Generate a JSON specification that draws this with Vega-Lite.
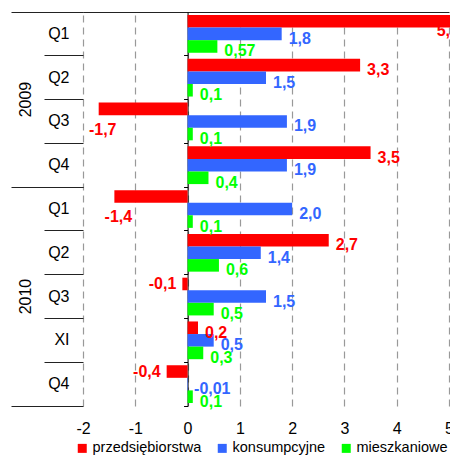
{
  "$schema": "https://vega.github.io/schema/vega-lite/v6.json",
  "width": 366,
  "height": 394,
  "padding": {"left": 10, "top": 11, "right": 0, "bottom": 0},
  "config": {"view": {"stroke": null}, "font": "Liberation Sans"},
  "data": {"values": [
    {"cat": "2009 Q1", "series": "przedsiębiorstwa", "value": 5.3},
    {"cat": "2009 Q1", "series": "konsumpcyjne", "value": 1.8},
    {"cat": "2009 Q1", "series": "mieszkaniowe", "value": 0.57},
    {"cat": "2009 Q2", "series": "przedsiębiorstwa", "value": 3.3},
    {"cat": "2009 Q2", "series": "konsumpcyjne", "value": 1.5},
    {"cat": "2009 Q2", "series": "mieszkaniowe", "value": 0.1},
    {"cat": "2009 Q3", "series": "przedsiębiorstwa", "value": -1.7},
    {"cat": "2009 Q3", "series": "konsumpcyjne", "value": 1.9},
    {"cat": "2009 Q3", "series": "mieszkaniowe", "value": 0.1},
    {"cat": "2009 Q4", "series": "przedsiębiorstwa", "value": 3.5},
    {"cat": "2009 Q4", "series": "konsumpcyjne", "value": 1.9},
    {"cat": "2009 Q4", "series": "mieszkaniowe", "value": 0.4},
    {"cat": "2010 Q1", "series": "przedsiębiorstwa", "value": -1.4},
    {"cat": "2010 Q1", "series": "konsumpcyjne", "value": 2.0},
    {"cat": "2010 Q1", "series": "mieszkaniowe", "value": 0.1},
    {"cat": "2010 Q2", "series": "przedsiębiorstwa", "value": 2.7},
    {"cat": "2010 Q2", "series": "konsumpcyjne", "value": 1.4},
    {"cat": "2010 Q2", "series": "mieszkaniowe", "value": 0.6},
    {"cat": "2010 Q3", "series": "przedsiębiorstwa", "value": -0.1},
    {"cat": "2010 Q3", "series": "konsumpcyjne", "value": 1.5},
    {"cat": "2010 Q3", "series": "mieszkaniowe", "value": 0.5},
    {"cat": "2010 XI", "series": "przedsiębiorstwa", "value": 0.2},
    {"cat": "2010 XI", "series": "konsumpcyjne", "value": 0.5},
    {"cat": "2010 XI", "series": "mieszkaniowe", "value": 0.3},
    {"cat": "2010 Q4", "series": "przedsiębiorstwa", "value": -0.4},
    {"cat": "2010 Q4", "series": "konsumpcyjne", "value": -0.01},
    {"cat": "2010 Q4", "series": "mieszkaniowe", "value": 0.1}
  ]},
  "layer": [
    {
      "mark": {"type": "bar"},
      "encoding": {
        "x": {"field": "value", "type": "quantitative", "scale": {"domain": [-2, 5], "nice": false, "zero": false},
          "axis": {"orient": "bottom", "values": [-2, -1, 0, 1, 2, 3, 4, 5], "labelExpr": "toString(datum.value)", "grid": true, "gridDash": [7, 5], "gridColor": "#999", "gridWidth": 1.2, "ticks": false, "domain": false, "labelFontSize": 16, "labelColor": "#000", "labelPadding": 14, "labelBaseline": "top", "labelFlush": false, "title": null}},
        "y": {"field": "cat", "type": "nominal", "scale": {"domain": ["2009 Q1", "2009 Q2", "2009 Q3", "2009 Q4", "2010 Q1", "2010 Q2", "2010 Q3", "2010 XI", "2010 Q4"], "paddingInner": 0, "paddingOuter": 0},
          "axis": {"orient": "left", "labelExpr": "slice(datum.label, 5)", "bandPosition": 0, "tickSize": 39, "tickColor": "#222", "domain": false, "grid": false, "labelAlign": "right", "labelBaseline": "middle", "labelPadding": -25, "labelFontSize": 16, "labelColor": "#000", "title": null}},
        "yOffset": {"field": "series", "type": "nominal", "scale": {"domain": ["przedsiębiorstwa", "konsumpcyjne", "mieszkaniowe"], "paddingInner": 0, "paddingOuter": 0.24}},
        "color": {"field": "series", "type": "nominal", "scale": {"domain": ["przedsiębiorstwa", "konsumpcyjne", "mieszkaniowe"], "range": ["#FF0000", "#3366FF", "#00FF00"]},
          "legend": {"orient": "none", "legendX": -8, "legendY": 429, "direction": "horizontal", "title": null, "symbolType": "square", "symbolSize": 81, "symbolStrokeWidth": 0, "labelFontSize": 14.5, "labelColor": "#000", "labelOffset": 3, "columnPadding": 13, "padding": 0}}
      }
    },
    {
      "mark": {"type": "point", "opacity": 0},
      "encoding": {
        "y": {"field": "cat", "type": "nominal", "scale": {"domain": ["2009 Q1", "2009 Q2", "2009 Q3", "2009 Q4", "2010 Q1", "2010 Q2", "2010 Q3", "2010 XI", "2010 Q4"], "paddingInner": 0, "paddingOuter": 0},
          "axis": {"orient": "left", "offset": -104.57, "domain": true, "domainColor": "#000", "domainWidth": 1, "ticks": true, "tickSize": 4, "bandPosition": 1, "tickColor": "#000", "labels": false, "grid": false, "title": null}}
      }
    },
    {
      "mark": {"type": "point", "opacity": 0},
      "encoding": {
        "y": {"field": "cat", "type": "nominal", "scale": {"domain": ["2009 Q1", "2009 Q2", "2009 Q3", "2009 Q4", "2010 Q1", "2010 Q2", "2010 Q3", "2010 XI", "2010 Q4"], "paddingInner": 0, "paddingOuter": 0},
          "axis": {"orient": "left", "values": ["2009 Q1"], "bandPosition": 0, "tickSize": 72, "tickColor": "#222", "domain": false, "grid": false, "labelExpr": "'2009'", "labelAngle": -90, "labelAlign": "center", "labelBaseline": "middle", "labelOffset": 65.67, "labelPadding": -14, "labelFontSize": 16, "labelColor": "#000", "title": null}}
      }
    },
    {
      "mark": {"type": "point", "opacity": 0},
      "encoding": {
        "y": {"field": "cat", "type": "nominal", "scale": {"domain": ["2009 Q1", "2009 Q2", "2009 Q3", "2009 Q4", "2010 Q1", "2010 Q2", "2010 Q3", "2010 XI", "2010 Q4"], "paddingInner": 0, "paddingOuter": 0},
          "axis": {"orient": "left", "values": ["2010 Q3"], "ticks": false, "domain": false, "grid": false, "labelExpr": "'2010'", "labelAngle": -90, "labelAlign": "center", "labelBaseline": "middle", "labelPadding": 58, "labelFontSize": 16, "labelColor": "#000", "title": null}}
      }
    },
    {
      "mark": {"type": "point", "opacity": 0},
      "encoding": {
        "y": {"field": "cat", "type": "nominal", "scale": {"domain": ["2009 Q1", "2009 Q2", "2009 Q3", "2009 Q4", "2010 Q1", "2010 Q2", "2010 Q3", "2010 XI", "2010 Q4"], "paddingInner": 0, "paddingOuter": 0},
          "axis": {"orient": "left", "values": ["2009 Q4", "2010 Q4"], "bandPosition": 1, "tickSize": 72, "tickColor": "#222", "domain": false, "grid": false, "labels": false, "title": null}}
      }
    },
    {
      "mark": {"type": "point", "opacity": 0},
      "encoding": {
        "x": {"field": "value", "type": "quantitative", "scale": {"domain": [-2, 5], "nice": false, "zero": false},
          "axis": {"orient": "top", "domain": true, "domainColor": "#222", "ticks": false, "labels": false, "grid": false, "title": null}}
      }
    },
    {
      "transform": [
        {"filter": "datum.value > -0.05 && datum.value <= 5"},
        {"calculate": "(datum.value < 0 ? '-' : '') + replace(format(abs(datum.value), round(datum.value*100) % 10 != 0 ? '.2f' : '.1f'), '.', ',')", "as": "lbl"}
      ],
      "mark": {"type": "text", "align": "left", "baseline": "middle", "dx": 7, "dy": 5, "fontSize": 16, "fontWeight": "bold"},
      "encoding": {
        "x": {"field": "value", "type": "quantitative", "scale": {"domain": [-2, 5], "nice": false, "zero": false}, "axis": null},
        "y": {"field": "cat", "type": "nominal", "scale": {"domain": ["2009 Q1", "2009 Q2", "2009 Q3", "2009 Q4", "2010 Q1", "2010 Q2", "2010 Q3", "2010 XI", "2010 Q4"], "paddingInner": 0, "paddingOuter": 0}, "axis": null},
        "yOffset": {"field": "series", "type": "nominal", "scale": {"domain": ["przedsiębiorstwa", "konsumpcyjne", "mieszkaniowe"], "paddingInner": 0, "paddingOuter": 0.24}},
        "color": {"field": "series", "type": "nominal", "scale": {"domain": ["przedsiębiorstwa", "konsumpcyjne", "mieszkaniowe"], "range": ["#FF0000", "#3366FF", "#00FF00"]}, "legend": null},
        "text": {"field": "lbl"}
      }
    },
    {
      "transform": [
        {"filter": "datum.value <= -0.05 && datum.value > -1"},
        {"calculate": "(datum.value < 0 ? '-' : '') + replace(format(abs(datum.value), round(datum.value*100) % 10 != 0 ? '.2f' : '.1f'), '.', ',')", "as": "lbl"}
      ],
      "mark": {"type": "text", "align": "right", "baseline": "middle", "dx": -6, "dy": 0, "fontSize": 16, "fontWeight": "bold"},
      "encoding": {
        "x": {"field": "value", "type": "quantitative", "scale": {"domain": [-2, 5], "nice": false, "zero": false}, "axis": null},
        "y": {"field": "cat", "type": "nominal", "scale": {"domain": ["2009 Q1", "2009 Q2", "2009 Q3", "2009 Q4", "2010 Q1", "2010 Q2", "2010 Q3", "2010 XI", "2010 Q4"], "paddingInner": 0, "paddingOuter": 0}, "axis": null},
        "yOffset": {"field": "series", "type": "nominal", "scale": {"domain": ["przedsiębiorstwa", "konsumpcyjne", "mieszkaniowe"], "paddingInner": 0, "paddingOuter": 0.24}},
        "color": {"field": "series", "type": "nominal", "scale": {"domain": ["przedsiębiorstwa", "konsumpcyjne", "mieszkaniowe"], "range": ["#FF0000", "#3366FF", "#00FF00"]}, "legend": null},
        "text": {"field": "lbl"}
      }
    },
    {
      "transform": [
        {"filter": "datum.value <= -1"},
        {"calculate": "(datum.value < 0 ? '-' : '') + replace(format(abs(datum.value), round(datum.value*100) % 10 != 0 ? '.2f' : '.1f'), '.', ',')", "as": "lbl"}
      ],
      "mark": {"type": "text", "align": "center", "baseline": "middle", "dx": 4, "dy": 21, "fontSize": 16, "fontWeight": "bold"},
      "encoding": {
        "x": {"field": "value", "type": "quantitative", "scale": {"domain": [-2, 5], "nice": false, "zero": false}, "axis": null},
        "y": {"field": "cat", "type": "nominal", "scale": {"domain": ["2009 Q1", "2009 Q2", "2009 Q3", "2009 Q4", "2010 Q1", "2010 Q2", "2010 Q3", "2010 XI", "2010 Q4"], "paddingInner": 0, "paddingOuter": 0}, "axis": null},
        "yOffset": {"field": "series", "type": "nominal", "scale": {"domain": ["przedsiębiorstwa", "konsumpcyjne", "mieszkaniowe"], "paddingInner": 0, "paddingOuter": 0.24}},
        "color": {"field": "series", "type": "nominal", "scale": {"domain": ["przedsiębiorstwa", "konsumpcyjne", "mieszkaniowe"], "range": ["#FF0000", "#3366FF", "#00FF00"]}, "legend": null},
        "text": {"field": "lbl"}
      }
    },
    {
      "transform": [
        {"filter": "datum.value > 5"},
        {"calculate": "(datum.value < 0 ? '-' : '') + replace(format(abs(datum.value), round(datum.value*100) % 10 != 0 ? '.2f' : '.1f'), '.', ',')", "as": "lbl"}
      ],
      "mark": {"type": "text", "align": "left", "baseline": "middle", "dx": -28, "dy": 10, "fontSize": 16, "fontWeight": "bold"},
      "encoding": {
        "x": {"field": "value", "type": "quantitative", "scale": {"domain": [-2, 5], "nice": false, "zero": false}, "axis": null},
        "y": {"field": "cat", "type": "nominal", "scale": {"domain": ["2009 Q1", "2009 Q2", "2009 Q3", "2009 Q4", "2010 Q1", "2010 Q2", "2010 Q3", "2010 XI", "2010 Q4"], "paddingInner": 0, "paddingOuter": 0}, "axis": null},
        "yOffset": {"field": "series", "type": "nominal", "scale": {"domain": ["przedsiębiorstwa", "konsumpcyjne", "mieszkaniowe"], "paddingInner": 0, "paddingOuter": 0.24}},
        "color": {"field": "series", "type": "nominal", "scale": {"domain": ["przedsiębiorstwa", "konsumpcyjne", "mieszkaniowe"], "range": ["#FF0000", "#3366FF", "#00FF00"]}, "legend": null},
        "text": {"field": "lbl"}
      }
    }
  ],
  "resolve": {"axis": {"x": "independent", "y": "independent"}}
}
